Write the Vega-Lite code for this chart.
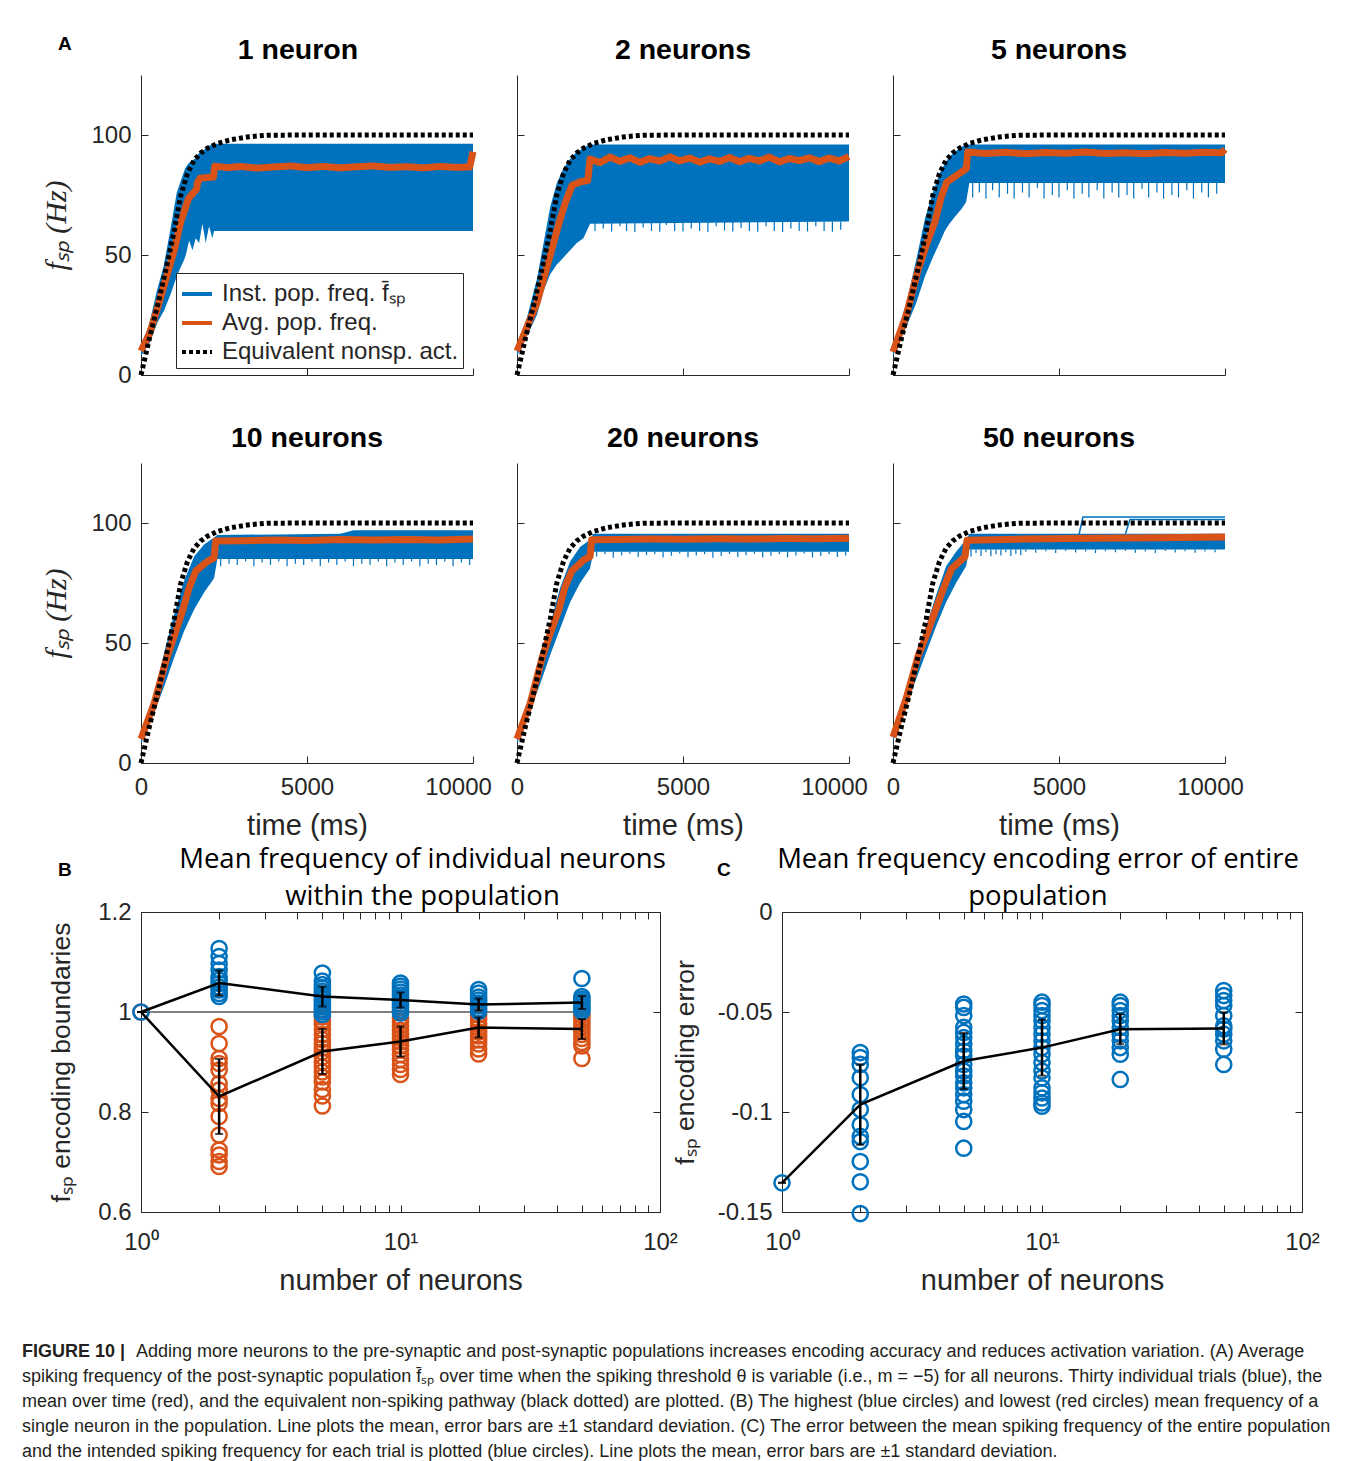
{
"$schema": "https://vega.github.io/schema/vega-lite/v6.json",
"padding": {"left": 22, "top": 35, "right": 8, "bottom": 8},
"spacing": 5,
"resolve": {"scale": {"color": "independent", "strokeDash": "independent"}, "legend": {"color": "independent", "strokeDash": "independent"}},
"datasets": {
"nonsp": [{"t":0,"f":0},{"t":250,"f":15},{"t":500,"f":29},{"t":750,"f":44},{"t":1000,"f":60},{"t":1200,"f":75},{"t":1400,"f":84},{"t":1600,"f":89.5},{"t":1800,"f":92.5},{"t":2000,"f":94.5},{"t":2300,"f":96.5},{"t":2700,"f":98},{"t":3200,"f":99.2},{"t":3800,"f":99.9},{"t":5000,"f":100},{"t":10000,"f":100}],
"band": [
{"p":1,"t":0,"lo":8,"hi":12},{"p":1,"t":250,"lo":13,"hi":20},{"p":1,"t":500,"lo":22,"hi":35},{"p":1,"t":700,"lo":27,"hi":45},{"p":1,"t":900,"lo":34,"hi":60},{"p":1,"t":1100,"lo":42,"hi":76},{"p":1,"t":1300,"lo":48,"hi":84},{"p":1,"t":1350,"lo":50,"hi":86},{"p":1,"t":1450,"lo":56,"hi":88},{"p":1,"t":1550,"lo":52,"hi":89},{"p":1,"t":1650,"lo":57,"hi":90},{"p":1,"t":1750,"lo":55,"hi":92},{"p":1,"t":1850,"lo":63,"hi":93},{"p":1,"t":1950,"lo":55,"hi":94},{"p":1,"t":2050,"lo":62,"hi":95},{"p":1,"t":2150,"lo":57,"hi":96},{"p":1,"t":2200,"lo":60,"hi":96},{"p":1,"t":10000,"lo":60,"hi":96},
{"p":2,"t":0,"lo":8,"hi":12},{"p":2,"t":300,"lo":16,"hi":24},{"p":2,"t":600,"lo":25,"hi":40},{"p":2,"t":800,"lo":35,"hi":55},{"p":2,"t":1000,"lo":42,"hi":70},{"p":2,"t":1200,"lo":46,"hi":80},{"p":2,"t":1400,"lo":49,"hi":86},{"p":2,"t":1600,"lo":52,"hi":90},{"p":2,"t":1800,"lo":55,"hi":93},{"p":2,"t":2000,"lo":57,"hi":94.5},{"p":2,"t":2100,"lo":60,"hi":95.5},{"p":2,"t":2200,"lo":63,"hi":96},{"p":2,"t":10000,"lo":64,"hi":96},
{"p":3,"t":0,"lo":8,"hi":12},{"p":3,"t":400,"lo":20,"hi":30},{"p":3,"t":700,"lo":30,"hi":48},{"p":3,"t":960,"lo":41,"hi":65},{"p":3,"t":1200,"lo":49,"hi":76},{"p":3,"t":1400,"lo":55,"hi":84},{"p":3,"t":1560,"lo":60,"hi":88},{"p":3,"t":1700,"lo":63,"hi":91},{"p":3,"t":1870,"lo":66,"hi":93},{"p":3,"t":2050,"lo":69,"hi":95},{"p":3,"t":2200,"lo":72,"hi":96},{"p":3,"t":2300,"lo":80,"hi":96},{"p":3,"t":10000,"lo":80,"hi":96},
{"p":4,"t":0,"lo":8,"hi":12},{"p":4,"t":400,"lo":21,"hi":29},{"p":4,"t":700,"lo":32,"hi":46},{"p":4,"t":1000,"lo":44,"hi":62},{"p":4,"t":1300,"lo":55,"hi":76},{"p":4,"t":1600,"lo":64,"hi":86},{"p":4,"t":1900,"lo":71,"hi":91},{"p":4,"t":2200,"lo":77,"hi":94},{"p":4,"t":2300,"lo":85,"hi":95},{"p":4,"t":6000,"lo":85,"hi":95.5},{"p":4,"t":6400,"lo":85,"hi":97},{"p":4,"t":10000,"lo":85,"hi":97},
{"p":5,"t":0,"lo":8,"hi":12},{"p":5,"t":400,"lo":22,"hi":28},{"p":5,"t":700,"lo":33,"hi":45},{"p":5,"t":1000,"lo":45,"hi":58},{"p":5,"t":1300,"lo":56,"hi":73},{"p":5,"t":1600,"lo":67,"hi":84},{"p":5,"t":1900,"lo":75,"hi":90},{"p":5,"t":2200,"lo":81,"hi":93},{"p":5,"t":2300,"lo":88,"hi":95.5},{"p":5,"t":10000,"lo":88,"hi":95.5},
{"p":6,"t":0,"lo":9,"hi":12},{"p":6,"t":400,"lo":24,"hi":29},{"p":6,"t":700,"lo":35,"hi":44},{"p":6,"t":1000,"lo":46,"hi":57},{"p":6,"t":1300,"lo":57,"hi":70},{"p":6,"t":1600,"lo":67,"hi":82},{"p":6,"t":1900,"lo":75,"hi":88},{"p":6,"t":2200,"lo":82,"hi":93},{"p":6,"t":2300,"lo":89,"hi":95.5},{"p":6,"t":10000,"lo":89,"hi":95.5}
],
"avg": [
{"p":1,"t":0,"f":10},{"p":1,"t":250,"f":17},{"p":1,"t":500,"f":28},{"p":1,"t":750,"f":40},{"p":1,"t":1000,"f":52},{"p":1,"t":1200,"f":64},{"p":1,"t":1430,"f":73.5},{"p":1,"t":1680,"f":77.6},{"p":1,"t":1700,"f":80},{"p":1,"t":1780,"f":82},{"p":1,"t":2180,"f":82.5},{"p":1,"t":2220,"f":87},{"p":1,"t":2600,"f":86.4},{"p":1,"t":3000,"f":86.9},{"p":1,"t":3500,"f":86.2},{"p":1,"t":4000,"f":86.7},{"p":1,"t":4500,"f":87.1},{"p":1,"t":5000,"f":86.4},{"p":1,"t":5500,"f":86.9},{"p":1,"t":6000,"f":86.3},{"p":1,"t":6500,"f":86.8},{"p":1,"t":7000,"f":87.1},{"p":1,"t":7500,"f":86.5},{"p":1,"t":8000,"f":86.8},{"p":1,"t":8500,"f":86.3},{"p":1,"t":9000,"f":86.9},{"p":1,"t":9500,"f":86.5},{"p":1,"t":9900,"f":86.7},{"p":1,"t":10000,"f":93},
{"p":2,"t":0,"f":10},{"p":2,"t":300,"f":20},{"p":2,"t":600,"f":30},{"p":2,"t":900,"f":45},{"p":2,"t":1100,"f":55},{"p":2,"t":1300,"f":65},{"p":2,"t":1460,"f":72},{"p":2,"t":1660,"f":79},{"p":2,"t":1910,"f":80.5},{"p":2,"t":2130,"f":81},{"p":2,"t":2200,"f":90},{"p":2,"t":2500,"f":88.5},{"p":2,"t":2800,"f":90.8},{"p":2,"t":3100,"f":89},{"p":2,"t":3400,"f":90.5},{"p":2,"t":3700,"f":88.6},{"p":2,"t":4000,"f":90.2},{"p":2,"t":4300,"f":89.1},{"p":2,"t":4600,"f":90.9},{"p":2,"t":4900,"f":89.2},{"p":2,"t":5200,"f":90.4},{"p":2,"t":5500,"f":88.7},{"p":2,"t":5800,"f":90.1},{"p":2,"t":6100,"f":89},{"p":2,"t":6400,"f":90.6},{"p":2,"t":6700,"f":88.9},{"p":2,"t":7000,"f":90.3},{"p":2,"t":7300,"f":89.2},{"p":2,"t":7600,"f":90.8},{"p":2,"t":7900,"f":88.8},{"p":2,"t":8200,"f":90.2},{"p":2,"t":8500,"f":89.3},{"p":2,"t":8800,"f":90.5},{"p":2,"t":9100,"f":88.9},{"p":2,"t":9400,"f":90.4},{"p":2,"t":9700,"f":89.2},{"p":2,"t":10000,"f":91},
{"p":3,"t":0,"f":9.6},{"p":3,"t":400,"f":25},{"p":3,"t":760,"f":44},{"p":3,"t":1000,"f":54},{"p":3,"t":1265,"f":64},{"p":3,"t":1450,"f":74},{"p":3,"t":1620,"f":80.4},{"p":3,"t":2070,"f":84.6},{"p":3,"t":2210,"f":86},{"p":3,"t":2250,"f":92.9},{"p":3,"t":2800,"f":92.3},{"p":3,"t":3400,"f":92.8},{"p":3,"t":4000,"f":92.2},{"p":3,"t":4600,"f":92.7},{"p":3,"t":5200,"f":92.4},{"p":3,"t":5800,"f":92.9},{"p":3,"t":6400,"f":92.3},{"p":3,"t":7000,"f":92.6},{"p":3,"t":7600,"f":92.2},{"p":3,"t":8200,"f":92.7},{"p":3,"t":8800,"f":92.4},{"p":3,"t":9400,"f":92.8},{"p":3,"t":9900,"f":92.6},{"p":3,"t":10000,"f":94},
{"p":4,"t":0,"f":10},{"p":4,"t":400,"f":25},{"p":4,"t":760,"f":43},{"p":4,"t":1000,"f":53},{"p":4,"t":1265,"f":64},{"p":4,"t":1450,"f":73},{"p":4,"t":1650,"f":80},{"p":4,"t":2000,"f":84},{"p":4,"t":2200,"f":85.5},{"p":4,"t":2250,"f":92.5},{"p":4,"t":3000,"f":92.6},{"p":4,"t":4000,"f":92.9},{"p":4,"t":5000,"f":92.7},{"p":4,"t":6000,"f":93.1},{"p":4,"t":7000,"f":92.9},{"p":4,"t":8000,"f":93.1},{"p":4,"t":9000,"f":92.9},{"p":4,"t":10000,"f":93.3},
{"p":5,"t":0,"f":10},{"p":5,"t":400,"f":25},{"p":5,"t":760,"f":44},{"p":5,"t":1000,"f":54},{"p":5,"t":1265,"f":64},{"p":5,"t":1450,"f":73.5},{"p":5,"t":1650,"f":80},{"p":5,"t":2000,"f":84.5},{"p":5,"t":2200,"f":86},{"p":5,"t":2250,"f":93},{"p":5,"t":3000,"f":93.1},{"p":5,"t":4000,"f":93.3},{"p":5,"t":5000,"f":93.2},{"p":5,"t":6000,"f":93.4},{"p":5,"t":7000,"f":93.3},{"p":5,"t":8000,"f":93.5},{"p":5,"t":9000,"f":93.4},{"p":5,"t":10000,"f":93.6},
{"p":6,"t":0,"f":10.8},{"p":6,"t":400,"f":27},{"p":6,"t":763,"f":44.9},{"p":6,"t":1000,"f":53},{"p":6,"t":1265,"f":63},{"p":6,"t":1500,"f":72},{"p":6,"t":1767,"f":81},{"p":6,"t":2169,"f":86},{"p":6,"t":2230,"f":92.8},{"p":6,"t":4000,"f":93.3},{"p":6,"t":6000,"f":93.6},{"p":6,"t":8000,"f":93.9},{"p":6,"t":10000,"f":94.2}
],
"spikes": [
{"p":2,"t":2350,"lo":60},{"p":2,"t":2600,"lo":61},{"p":2,"t":2850,"lo":59.8},{"p":2,"t":3100,"lo":62},{"p":2,"t":3300,"lo":60},{"p":2,"t":3550,"lo":59.6},{"p":2,"t":3800,"lo":61.5},{"p":2,"t":4050,"lo":60},{"p":2,"t":4300,"lo":59.7},{"p":2,"t":4500,"lo":62.5},{"p":2,"t":4750,"lo":60},{"p":2,"t":5000,"lo":59.8},{"p":2,"t":5250,"lo":61},{"p":2,"t":5500,"lo":60},{"p":2,"t":5750,"lo":59.6},{"p":2,"t":6000,"lo":62},{"p":2,"t":6250,"lo":60.2},{"p":2,"t":6500,"lo":59.8},{"p":2,"t":6750,"lo":61.2},{"p":2,"t":7000,"lo":60},{"p":2,"t":7250,"lo":59.7},{"p":2,"t":7500,"lo":62},{"p":2,"t":7750,"lo":60},{"p":2,"t":8000,"lo":59.6},{"p":2,"t":8250,"lo":61},{"p":2,"t":8500,"lo":60},{"p":2,"t":8750,"lo":59.8},{"p":2,"t":9000,"lo":62},{"p":2,"t":9250,"lo":60},{"p":2,"t":9500,"lo":59.7},{"p":2,"t":9750,"lo":60.5},
{"p":3,"t":2400,"lo":74},{"p":3,"t":2600,"lo":76},{"p":3,"t":2800,"lo":73.5},{"p":3,"t":3000,"lo":77},{"p":3,"t":3200,"lo":74},{"p":3,"t":3450,"lo":75.5},{"p":3,"t":3650,"lo":73.5},{"p":3,"t":3900,"lo":76},{"p":3,"t":4100,"lo":74},{"p":3,"t":4350,"lo":78},{"p":3,"t":4550,"lo":73.5},{"p":3,"t":4800,"lo":75},{"p":3,"t":5000,"lo":74},{"p":3,"t":5250,"lo":77},{"p":3,"t":5450,"lo":73.5},{"p":3,"t":5700,"lo":75.5},{"p":3,"t":5900,"lo":74},{"p":3,"t":6150,"lo":77},{"p":3,"t":6350,"lo":73.5},{"p":3,"t":6600,"lo":76},{"p":3,"t":6800,"lo":74},{"p":3,"t":7050,"lo":75},{"p":3,"t":7250,"lo":73.5},{"p":3,"t":7500,"lo":77.5},{"p":3,"t":7700,"lo":74},{"p":3,"t":7950,"lo":76},{"p":3,"t":8150,"lo":73.5},{"p":3,"t":8400,"lo":75},{"p":3,"t":8600,"lo":74},{"p":3,"t":8850,"lo":77},{"p":3,"t":9050,"lo":73.5},{"p":3,"t":9300,"lo":76},{"p":3,"t":9500,"lo":74},{"p":3,"t":9750,"lo":75.5},
{"p":4,"t":2400,"lo":82},{"p":4,"t":2650,"lo":83},{"p":4,"t":2900,"lo":82.5},{"p":4,"t":3150,"lo":84},{"p":4,"t":3400,"lo":82},{"p":4,"t":3650,"lo":83.5},{"p":4,"t":3900,"lo":82.5},{"p":4,"t":4150,"lo":84},{"p":4,"t":4400,"lo":82},{"p":4,"t":4650,"lo":83},{"p":4,"t":4900,"lo":82.5},{"p":4,"t":5150,"lo":84},{"p":4,"t":5400,"lo":82},{"p":4,"t":5650,"lo":83.5},{"p":4,"t":5900,"lo":82.5},{"p":4,"t":6150,"lo":84},{"p":4,"t":6400,"lo":82},{"p":4,"t":6650,"lo":83},{"p":4,"t":6900,"lo":82.5},{"p":4,"t":7150,"lo":84},{"p":4,"t":7400,"lo":82},{"p":4,"t":7650,"lo":83.5},{"p":4,"t":7900,"lo":82.5},{"p":4,"t":8150,"lo":84},{"p":4,"t":8400,"lo":82},{"p":4,"t":8650,"lo":83},{"p":4,"t":8900,"lo":82.5},{"p":4,"t":9150,"lo":84},{"p":4,"t":9400,"lo":82},{"p":4,"t":9650,"lo":83.5},{"p":4,"t":9900,"lo":82.5},
{"p":5,"t":2400,"lo":86},{"p":5,"t":2650,"lo":87},{"p":5,"t":2900,"lo":85.5},{"p":5,"t":3150,"lo":86.5},{"p":5,"t":3400,"lo":87.2},{"p":5,"t":3650,"lo":85.8},{"p":5,"t":3900,"lo":86.6},{"p":5,"t":4150,"lo":87},{"p":5,"t":4400,"lo":85.6},{"p":5,"t":4650,"lo":86.4},{"p":5,"t":4900,"lo":87.3},{"p":5,"t":5150,"lo":85.7},{"p":5,"t":5400,"lo":86.5},{"p":5,"t":5650,"lo":87},{"p":5,"t":5900,"lo":85.5},{"p":5,"t":6150,"lo":86.3},{"p":5,"t":6400,"lo":87.1},{"p":5,"t":6650,"lo":85.8},{"p":5,"t":6900,"lo":86.6},{"p":5,"t":7150,"lo":87.2},{"p":5,"t":7400,"lo":85.6},{"p":5,"t":7650,"lo":86.4},{"p":5,"t":7900,"lo":87},{"p":5,"t":8150,"lo":85.7},{"p":5,"t":8400,"lo":86.5},{"p":5,"t":8650,"lo":87.3},{"p":5,"t":8900,"lo":85.6},{"p":5,"t":9150,"lo":86.2},{"p":5,"t":9400,"lo":87},{"p":5,"t":9650,"lo":85.8},{"p":5,"t":9900,"lo":86.5},
{"p":6,"t":2350,"lo":86},{"p":6,"t":2500,"lo":87.5},{"p":6,"t":2650,"lo":86.3},{"p":6,"t":2800,"lo":87.8},{"p":6,"t":2950,"lo":86.1},{"p":6,"t":3100,"lo":87},{"p":6,"t":3250,"lo":86.5},{"p":6,"t":3400,"lo":87.8},{"p":6,"t":3550,"lo":86.2},{"p":6,"t":3700,"lo":87.2},{"p":6,"t":3850,"lo":86.6},{"p":6,"t":4000,"lo":88},{"p":6,"t":4300,"lo":87.6},{"p":6,"t":4600,"lo":88.2},{"p":6,"t":4900,"lo":87.5},{"p":6,"t":5200,"lo":88.3},{"p":6,"t":5500,"lo":87.7},{"p":6,"t":5800,"lo":88.1},{"p":6,"t":6100,"lo":87.5},{"p":6,"t":6400,"lo":88.2},{"p":6,"t":6700,"lo":87.8},{"p":6,"t":7000,"lo":88.4},{"p":6,"t":7300,"lo":87.6},{"p":6,"t":7600,"lo":88.1},{"p":6,"t":7900,"lo":87.5},{"p":6,"t":8200,"lo":88.3},{"p":6,"t":8500,"lo":87.7},{"p":6,"t":8800,"lo":88.2},{"p":6,"t":9100,"lo":87.6},{"p":6,"t":9400,"lo":88.1},{"p":6,"t":9700,"lo":87.8}
],
"outlier": [
{"p":6,"tr":"a","t":5600,"f":95},{"p":6,"tr":"a","t":5720,"f":102.5},{"p":6,"tr":"a","t":10000,"f":102.5},
{"p":6,"tr":"b","t":7000,"f":95.5},{"p":6,"tr":"b","t":7140,"f":101.5},{"p":6,"tr":"b","t":10000,"f":101.5}
],
"bpts": [
{"n":1,"k":"min","v":1},
{"n":2,"k":"min","v":0.971},{"n":2,"k":"min","v":0.937},{"n":2,"k":"min","v":0.907},{"n":2,"k":"min","v":0.897},{"n":2,"k":"min","v":0.884},{"n":2,"k":"min","v":0.857},{"n":2,"k":"min","v":0.844},{"n":2,"k":"min","v":0.827},{"n":2,"k":"min","v":0.817},{"n":2,"k":"min","v":0.791},{"n":2,"k":"min","v":0.754},{"n":2,"k":"min","v":0.724},{"n":2,"k":"min","v":0.714},{"n":2,"k":"min","v":0.701},{"n":2,"k":"min","v":0.691},
{"n":5,"k":"min","v":0.99},{"n":5,"k":"min","v":0.982},{"n":5,"k":"min","v":0.975},{"n":5,"k":"min","v":0.965},{"n":5,"k":"min","v":0.955},{"n":5,"k":"min","v":0.945},{"n":5,"k":"min","v":0.937},{"n":5,"k":"min","v":0.928},{"n":5,"k":"min","v":0.92},{"n":5,"k":"min","v":0.91},{"n":5,"k":"min","v":0.9},{"n":5,"k":"min","v":0.89},{"n":5,"k":"min","v":0.88},{"n":5,"k":"min","v":0.87},{"n":5,"k":"min","v":0.86},{"n":5,"k":"min","v":0.845},{"n":5,"k":"min","v":0.832},{"n":5,"k":"min","v":0.812},
{"n":10,"k":"min","v":0.988},{"n":10,"k":"min","v":0.98},{"n":10,"k":"min","v":0.972},{"n":10,"k":"min","v":0.964},{"n":10,"k":"min","v":0.956},{"n":10,"k":"min","v":0.948},{"n":10,"k":"min","v":0.94},{"n":10,"k":"min","v":0.932},{"n":10,"k":"min","v":0.924},{"n":10,"k":"min","v":0.915},{"n":10,"k":"min","v":0.905},{"n":10,"k":"min","v":0.895},{"n":10,"k":"min","v":0.885},{"n":10,"k":"min","v":0.875},
{"n":20,"k":"min","v":0.994},{"n":20,"k":"min","v":0.985},{"n":20,"k":"min","v":0.976},{"n":20,"k":"min","v":0.968},{"n":20,"k":"min","v":0.96},{"n":20,"k":"min","v":0.952},{"n":20,"k":"min","v":0.944},{"n":20,"k":"min","v":0.936},{"n":20,"k":"min","v":0.926},{"n":20,"k":"min","v":0.916},
{"n":50,"k":"min","v":0.994},{"n":50,"k":"min","v":0.986},{"n":50,"k":"min","v":0.978},{"n":50,"k":"min","v":0.97},{"n":50,"k":"min","v":0.962},{"n":50,"k":"min","v":0.955},{"n":50,"k":"min","v":0.947},{"n":50,"k":"min","v":0.939},{"n":50,"k":"min","v":0.932},{"n":50,"k":"min","v":0.907},
{"n":1,"k":"max","v":1},
{"n":2,"k":"max","v":1.127},{"n":2,"k":"max","v":1.111},{"n":2,"k":"max","v":1.097},{"n":2,"k":"max","v":1.084},{"n":2,"k":"max","v":1.071},{"n":2,"k":"max","v":1.064},{"n":2,"k":"max","v":1.057},{"n":2,"k":"max","v":1.05},{"n":2,"k":"max","v":1.044},{"n":2,"k":"max","v":1.037},{"n":2,"k":"max","v":1.031},
{"n":5,"k":"max","v":1.078},{"n":5,"k":"max","v":1.062},{"n":5,"k":"max","v":1.055},{"n":5,"k":"max","v":1.048},{"n":5,"k":"max","v":1.042},{"n":5,"k":"max","v":1.036},{"n":5,"k":"max","v":1.03},{"n":5,"k":"max","v":1.025},{"n":5,"k":"max","v":1.02},{"n":5,"k":"max","v":1.015},{"n":5,"k":"max","v":1.01},{"n":5,"k":"max","v":1.005},{"n":5,"k":"max","v":1},{"n":5,"k":"max","v":0.995},
{"n":10,"k":"max","v":1.058},{"n":10,"k":"max","v":1.052},{"n":10,"k":"max","v":1.046},{"n":10,"k":"max","v":1.04},{"n":10,"k":"max","v":1.034},{"n":10,"k":"max","v":1.028},{"n":10,"k":"max","v":1.022},{"n":10,"k":"max","v":1.016},{"n":10,"k":"max","v":1.01},{"n":10,"k":"max","v":1.004},{"n":10,"k":"max","v":0.998},
{"n":20,"k":"max","v":1.045},{"n":20,"k":"max","v":1.038},{"n":20,"k":"max","v":1.03},{"n":20,"k":"max","v":1.024},{"n":20,"k":"max","v":1.018},{"n":20,"k":"max","v":1.012},{"n":20,"k":"max","v":1.006},{"n":20,"k":"max","v":1.001},
{"n":50,"k":"max","v":1.067},{"n":50,"k":"max","v":1.031},{"n":50,"k":"max","v":1.026},{"n":50,"k":"max","v":1.021},{"n":50,"k":"max","v":1.016},{"n":50,"k":"max","v":1.011},{"n":50,"k":"max","v":1.006},{"n":50,"k":"max","v":1.001}
],
"bstats": [
{"n":1,"k":"max","m":1,"lo":1,"hi":1},{"n":2,"k":"max","m":1.058,"lo":1.033,"hi":1.083},{"n":5,"k":"max","m":1.031,"lo":1.011,"hi":1.051},{"n":10,"k":"max","m":1.024,"lo":1.009,"hi":1.039},{"n":20,"k":"max","m":1.015,"lo":1.003,"hi":1.027},{"n":50,"k":"max","m":1.019,"lo":1.006,"hi":1.032},
{"n":1,"k":"min","m":1,"lo":1,"hi":1},{"n":2,"k":"min","m":0.831,"lo":0.756,"hi":0.906},{"n":5,"k":"min","m":0.921,"lo":0.876,"hi":0.966},{"n":10,"k":"min","m":0.941,"lo":0.911,"hi":0.971},{"n":20,"k":"min","m":0.969,"lo":0.949,"hi":0.989},{"n":50,"k":"min","m":0.966,"lo":0.946,"hi":0.986}
],
"cpts": [
{"n":1,"v":-0.1354},
{"n":2,"v":-0.0703},{"n":2,"v":-0.0728},{"n":2,"v":-0.0762},{"n":2,"v":-0.0829},{"n":2,"v":-0.0913},{"n":2,"v":-0.0988},{"n":2,"v":-0.1064},{"n":2,"v":-0.1122},{"n":2,"v":-0.1148},{"n":2,"v":-0.1248},{"n":2,"v":-0.1349},{"n":2,"v":-0.1508},
{"n":5,"v":-0.046},{"n":5,"v":-0.0477},{"n":5,"v":-0.0518},{"n":5,"v":-0.0577},{"n":5,"v":-0.0602},{"n":5,"v":-0.0628},{"n":5,"v":-0.0661},{"n":5,"v":-0.0695},{"n":5,"v":-0.072},{"n":5,"v":-0.0762},{"n":5,"v":-0.0795},{"n":5,"v":-0.082},{"n":5,"v":-0.0854},{"n":5,"v":-0.0879},{"n":5,"v":-0.0913},{"n":5,"v":-0.0946},{"n":5,"v":-0.0988},{"n":5,"v":-0.1047},{"n":5,"v":-0.1181},
{"n":10,"v":-0.0451},{"n":10,"v":-0.0468},{"n":10,"v":-0.0493},{"n":10,"v":-0.0518},{"n":10,"v":-0.0544},{"n":10,"v":-0.0577},{"n":10,"v":-0.0611},{"n":10,"v":-0.0644},{"n":10,"v":-0.0678},{"n":10,"v":-0.0711},{"n":10,"v":-0.0753},{"n":10,"v":-0.0795},{"n":10,"v":-0.0829},{"n":10,"v":-0.0879},{"n":10,"v":-0.0904},{"n":10,"v":-0.093},{"n":10,"v":-0.0955},{"n":10,"v":-0.0971},
{"n":20,"v":-0.0451},{"n":20,"v":-0.0468},{"n":20,"v":-0.0493},{"n":20,"v":-0.0518},{"n":20,"v":-0.0544},{"n":20,"v":-0.0577},{"n":20,"v":-0.0611},{"n":20,"v":-0.0644},{"n":20,"v":-0.0678},{"n":20,"v":-0.0711},{"n":20,"v":-0.0837},
{"n":50,"v":-0.0393},{"n":50,"v":-0.0418},{"n":50,"v":-0.0443},{"n":50,"v":-0.0468},{"n":50,"v":-0.0518},{"n":50,"v":-0.0569},{"n":50,"v":-0.0585},{"n":50,"v":-0.0611},{"n":50,"v":-0.0644},{"n":50,"v":-0.0686},{"n":50,"v":-0.0762}
],
"cstats": [
{"n":1,"m":-0.1354,"lo":-0.1354,"hi":-0.1354},{"n":2,"m":-0.0963,"lo":-0.1164,"hi":-0.0762},{"n":5,"m":-0.0745,"lo":-0.0885,"hi":-0.0605},{"n":10,"m":-0.0678,"lo":-0.0818,"hi":-0.0538},{"n":20,"m":-0.0586,"lo":-0.0661,"hi":-0.0511},{"n":50,"m":-0.0582,"lo":-0.0662,"hi":-0.0502}
],
"caption": [
{"line":1,"seg":"fig","text":"FIGURE 10 |"},
{"line":1,"seg":"l1","text":"Adding more neurons to the pre-synaptic and post-synaptic populations increases encoding accuracy and reduces activation variation. (A) Average"},
{"line":2,"seg":"main","text":"spiking frequency of the post-synaptic population f̄ₛₚ over time when the spiking threshold θ is variable (i.e., m = −5) for all neurons. Thirty individual trials (blue), the"},
{"line":3,"seg":"main","text":"mean over time (red), and the equivalent non-spiking pathway (black dotted) are plotted. (B) The highest (blue circles) and lowest (red circles) mean frequency of a"},
{"line":4,"seg":"main","text":"single neuron in the population. Line plots the mean, error bars are ±1 standard deviation. (C) The error between the mean spiking frequency of the entire population"},
{"line":5,"seg":"main","text":"and the intended spiking frequency for each trial is plotted (blue circles). Line plots the mean, error bars are ±1 standard deviation."}
]
},
"vconcat": [
{"columns": 4, "align": "each", "bounds": "flush", "spacing": {"row": 88, "column": 44},
 "resolve": {"scale": {"color": "independent", "strokeDash": "independent"}, "legend": {"color": "independent", "strokeDash": "independent"}},
 "concat": [
{"width":75,"height":300,"data":{"values":[]},"mark":{"type":"point","opacity":0},"title":{"text":"A","anchor":"start","dx":36,"offset":6,"fontSize":19,"fontWeight":"bold","baseline":"alphabetic"}},
{"width":332,"height":300,"title":{"text":"1 neuron","dx":-9},"resolve":{"axis":{"x":"independent","y":"independent"}},"layer":[
 {"data":{"name":"band"},"transform":[{"filter":"datum.p == 1"}],"mark":{"type":"area","color":"#0072BD","opacity":1},"encoding":{"x":{"field":"t","type":"quantitative","scale":{"domain":[0,10000],"nice":false},"axis":{"values":[0,5000,10000],"labels":false,"title":null}},"y":{"field":"lo","type":"quantitative","scale":{"domain":[0,125],"nice":false},"axis":{"values":[0,50,100],"title":"fₛₚ (Hz)","titleFont":"Liberation Serif","titleFontStyle":"italic","titleFontSize":30,"titlePadding":19}},"y2":{"field":"hi"}}},
 {"data":{"name":"band"},"transform":[{"filter":"datum.p == 1"}],"mark":{"type":"line","strokeWidth":1.5},"encoding":{"x":{"field":"t","type":"quantitative","axis":null},"y":{"field":"hi","type":"quantitative","axis":null},
   "color":{"datum":"Inst. pop. freq. f̄ₛₚ","scale":{"domain":["Inst. pop. freq. f̄ₛₚ","Avg. pop. freq.","Equivalent nonsp. act."],"range":["#0072BD","#D95319","#000000"]},"legend":{"title":null,"orient":"none","legendX":35,"legendY":198,"symbolType":"stroke","symbolSize":900,"symbolStrokeWidth":4,"labelFont":"Liberation Sans","labelFontSize":24,"labelColor":"#262626","labelOffset":8,"labelLimit":400,"strokeColor":"#262626","fillColor":"#ffffff","padding":4,"rowPadding":0}},
   "strokeDash":{"datum":"Inst. pop. freq. f̄ₛₚ","scale":{"domain":["Inst. pop. freq. f̄ₛₚ","Avg. pop. freq.","Equivalent nonsp. act."],"range":[[1,0],[1,0],[4,3]]},"legend":{"title":null}}}},
 {"data":{"name":"avg"},"transform":[{"filter":"datum.p == 1"}],"mark":{"type":"line","strokeWidth":7,"strokeJoin":"round"},"encoding":{"x":{"field":"t","type":"quantitative","axis":null},"y":{"field":"f","type":"quantitative","axis":null},"color":{"datum":"Avg. pop. freq."},"strokeDash":{"datum":"Avg. pop. freq."}}},
 {"data":{"name":"nonsp"},"mark":{"type":"line","strokeWidth":5,"strokeCap":"butt"},"encoding":{"x":{"field":"t","type":"quantitative","axis":null},"y":{"field":"f","type":"quantitative","axis":null},"color":{"datum":"Equivalent nonsp. act."},"strokeDash":{"datum":"Equivalent nonsp. act."}}}
]},
{"width":332,"height":300,"title":{"text":"2 neurons"},"resolve":{"axis":{"x":"independent","y":"independent"}},"layer":[
 {"data":{"name":"band"},"transform":[{"filter":"datum.p == 2"}],"mark":{"type":"area","color":"#0072BD","opacity":1},"encoding":{"x":{"field":"t","type":"quantitative","scale":{"domain":[0,10000],"nice":false},"axis":{"values":[0,5000,10000],"labels":false,"title":null}},"y":{"field":"lo","type":"quantitative","scale":{"domain":[0,125],"nice":false},"axis":{"values":[0,50,100],"labels":false,"title":null}},"y2":{"field":"hi"}}},
 {"data":{"name":"spikes"},"transform":[{"filter":"datum.p == 2"}],"mark":{"type":"rule","color":"#0072BD","strokeWidth":1.2},"encoding":{"x":{"field":"t","type":"quantitative","axis":null},"y":{"field":"lo","type":"quantitative","axis":null},"y2":{"datum":64}}},
 {"data":{"name":"avg"},"transform":[{"filter":"datum.p == 2"}],"mark":{"type":"line","color":"#D95319","strokeWidth":7,"strokeJoin":"round"},"encoding":{"x":{"field":"t","type":"quantitative","axis":null},"y":{"field":"f","type":"quantitative","axis":null}}},
 {"data":{"name":"nonsp"},"mark":{"type":"line","color":"#000000","strokeWidth":5,"strokeDash":[4,3],"strokeCap":"butt"},"encoding":{"x":{"field":"t","type":"quantitative","axis":null},"y":{"field":"f","type":"quantitative","axis":null}}}
]},
{"width":332,"height":300,"title":{"text":"5 neurons"},"resolve":{"axis":{"x":"independent","y":"independent"}},"layer":[
 {"data":{"name":"band"},"transform":[{"filter":"datum.p == 3"}],"mark":{"type":"area","color":"#0072BD","opacity":1},"encoding":{"x":{"field":"t","type":"quantitative","scale":{"domain":[0,10000],"nice":false},"axis":{"values":[0,5000,10000],"labels":false,"title":null}},"y":{"field":"lo","type":"quantitative","scale":{"domain":[0,125],"nice":false},"axis":{"values":[0,50,100],"labels":false,"title":null}},"y2":{"field":"hi"}}},
 {"data":{"name":"spikes"},"transform":[{"filter":"datum.p == 3"}],"mark":{"type":"rule","color":"#0072BD","strokeWidth":1.2},"encoding":{"x":{"field":"t","type":"quantitative","axis":null},"y":{"field":"lo","type":"quantitative","axis":null},"y2":{"datum":80}}},
 {"data":{"name":"avg"},"transform":[{"filter":"datum.p == 3"}],"mark":{"type":"line","color":"#D95319","strokeWidth":7,"strokeJoin":"round"},"encoding":{"x":{"field":"t","type":"quantitative","axis":null},"y":{"field":"f","type":"quantitative","axis":null}}},
 {"data":{"name":"nonsp"},"mark":{"type":"line","color":"#000000","strokeWidth":5,"strokeDash":[4,3],"strokeCap":"butt"},"encoding":{"x":{"field":"t","type":"quantitative","axis":null},"y":{"field":"f","type":"quantitative","axis":null}}}
]},
{"width":75,"height":300,"data":{"values":[]},"mark":{"type":"point","opacity":0}},
{"width":332,"height":300,"title":{"text":"10 neurons"},"resolve":{"axis":{"x":"independent","y":"independent"}},"layer":[
 {"data":{"name":"band"},"transform":[{"filter":"datum.p == 4"}],"mark":{"type":"area","color":"#0072BD","opacity":1},"encoding":{"x":{"field":"t","type":"quantitative","scale":{"domain":[0,10000],"nice":false},"axis":{"values":[0,5000,10000],"format":"d","title":"time (ms)","labelOffset":{"condition":{"test":"datum.value == 10000","value":-15},"value":0}}},"y":{"field":"lo","type":"quantitative","scale":{"domain":[0,125],"nice":false},"axis":{"values":[0,50,100],"title":"fₛₚ (Hz)","titleFont":"Liberation Serif","titleFontStyle":"italic","titleFontSize":30,"titlePadding":19}},"y2":{"field":"hi"}}},
 {"data":{"name":"spikes"},"transform":[{"filter":"datum.p == 4"}],"mark":{"type":"rule","color":"#0072BD","strokeWidth":1.2},"encoding":{"x":{"field":"t","type":"quantitative","axis":null},"y":{"field":"lo","type":"quantitative","axis":null},"y2":{"datum":85}}},
 {"data":{"name":"avg"},"transform":[{"filter":"datum.p == 4"}],"mark":{"type":"line","color":"#D95319","strokeWidth":7,"strokeJoin":"round"},"encoding":{"x":{"field":"t","type":"quantitative","axis":null},"y":{"field":"f","type":"quantitative","axis":null}}},
 {"data":{"name":"nonsp"},"mark":{"type":"line","color":"#000000","strokeWidth":5,"strokeDash":[4,3],"strokeCap":"butt"},"encoding":{"x":{"field":"t","type":"quantitative","axis":null},"y":{"field":"f","type":"quantitative","axis":null}}}
]},
{"width":332,"height":300,"title":{"text":"20 neurons"},"resolve":{"axis":{"x":"independent","y":"independent"}},"layer":[
 {"data":{"name":"band"},"transform":[{"filter":"datum.p == 5"}],"mark":{"type":"area","color":"#0072BD","opacity":1},"encoding":{"x":{"field":"t","type":"quantitative","scale":{"domain":[0,10000],"nice":false},"axis":{"values":[0,5000,10000],"format":"d","title":"time (ms)","labelOffset":{"condition":{"test":"datum.value == 10000","value":-15},"value":0}}},"y":{"field":"lo","type":"quantitative","scale":{"domain":[0,125],"nice":false},"axis":{"values":[0,50,100],"labels":false,"title":null}},"y2":{"field":"hi"}}},
 {"data":{"name":"spikes"},"transform":[{"filter":"datum.p == 5"}],"mark":{"type":"rule","color":"#0072BD","strokeWidth":1.2},"encoding":{"x":{"field":"t","type":"quantitative","axis":null},"y":{"field":"lo","type":"quantitative","axis":null},"y2":{"datum":88}}},
 {"data":{"name":"avg"},"transform":[{"filter":"datum.p == 5"}],"mark":{"type":"line","color":"#D95319","strokeWidth":7,"strokeJoin":"round"},"encoding":{"x":{"field":"t","type":"quantitative","axis":null},"y":{"field":"f","type":"quantitative","axis":null}}},
 {"data":{"name":"nonsp"},"mark":{"type":"line","color":"#000000","strokeWidth":5,"strokeDash":[4,3],"strokeCap":"butt"},"encoding":{"x":{"field":"t","type":"quantitative","axis":null},"y":{"field":"f","type":"quantitative","axis":null}}}
]},
{"width":332,"height":300,"title":{"text":"50 neurons"},"resolve":{"axis":{"x":"independent","y":"independent"}},"layer":[
 {"data":{"name":"band"},"transform":[{"filter":"datum.p == 6"}],"mark":{"type":"area","color":"#0072BD","opacity":1},"encoding":{"x":{"field":"t","type":"quantitative","scale":{"domain":[0,10000],"nice":false},"axis":{"values":[0,5000,10000],"format":"d","title":"time (ms)","labelOffset":{"condition":{"test":"datum.value == 10000","value":-15},"value":0}}},"y":{"field":"lo","type":"quantitative","scale":{"domain":[0,125],"nice":false},"axis":{"values":[0,50,100],"labels":false,"title":null}},"y2":{"field":"hi"}}},
 {"data":{"name":"spikes"},"transform":[{"filter":"datum.p == 6"}],"mark":{"type":"rule","color":"#0072BD","strokeWidth":1.2},"encoding":{"x":{"field":"t","type":"quantitative","axis":null},"y":{"field":"lo","type":"quantitative","axis":null},"y2":{"datum":89}}},
 {"data":{"name":"outlier"},"mark":{"type":"line","color":"#0072BD","strokeWidth":1.5},"encoding":{"x":{"field":"t","type":"quantitative","axis":null},"y":{"field":"f","type":"quantitative","axis":null},"detail":{"field":"tr"}}},
 {"data":{"name":"avg"},"transform":[{"filter":"datum.p == 6"}],"mark":{"type":"line","color":"#D95319","strokeWidth":7,"strokeJoin":"round"},"encoding":{"x":{"field":"t","type":"quantitative","axis":null},"y":{"field":"f","type":"quantitative","axis":null}}},
 {"data":{"name":"nonsp"},"mark":{"type":"line","color":"#000000","strokeWidth":5,"strokeDash":[4,3],"strokeCap":"butt"},"encoding":{"x":{"field":"t","type":"quantitative","axis":null},"y":{"field":"f","type":"quantitative","axis":null}}}
]}
]},
{"hconcat": [
{"width":75,"height":300,"data":{"values":[]},"mark":{"type":"point","opacity":0},"title":{"text":"B","anchor":"start","dx":36,"offset":17,"fontSize":19,"fontWeight":"bold","baseline":"alphabetic"}},
{"width":519,"height":300,"view":{"stroke":"#262626","strokeWidth":1},
 "title":{"text":["Mean frequency of individual neurons","within the population"],"font":"Open Sans","fontSize":27.5,"fontWeight":"normal","lineHeight":37,"offset":-10,"dx":22},
 "resolve":{"axis":{"x":"independent","y":"independent"}},
 "layer":[
 {"data":{"values":[{}]},"mark":{"type":"rule","color":"#000000","strokeWidth":1},"encoding":{
   "x":{"datum":1,"type":"quantitative","scale":{"type":"log","domain":[1,100],"nice":false},"axis":{"orient":"top","values":[1,2,3,4,5,6,7,8,9,10,20,30,40,50,60,70,80,90,100],"labels":false,"title":null,"domain":false}},
   "x2":{"datum":50},
   "y":{"datum":1,"type":"quantitative","scale":{"domain":[0.6,1.2],"nice":false},"axis":{"orient":"right","values":[0.6,0.8,1,1.2],"labels":false,"title":null,"domain":false}}}},
 {"data":{"name":"bpts"},"mark":{"type":"point","shape":"circle","filled":false,"size":230,"strokeWidth":2.5,"opacity":1},"encoding":{
   "x":{"field":"n","type":"quantitative","axis":{"orient":"bottom","values":[1,2,3,4,5,6,7,8,9,10,20,30,40,50,60,70,80,90,100],"labelExpr":"datum.value == 1 ? '10⁰' : datum.value == 10 ? '10¹' : datum.value == 100 ? '10²' : ''","title":"number of neurons","domain":false,"labelPadding":25}},
   "y":{"field":"v","type":"quantitative","axis":{"orient":"left","values":[0.6,0.8,1,1.2],"labelExpr":"format(datum.value, '~g')","title":"fₛₚ encoding boundaries","titleFontSize":26.5,"titlePadding":22,"domain":false}},
   "color":{"field":"k","type":"nominal","scale":{"domain":["min","max"],"range":["#D95319","#0072BD"]},"legend":null}}},
 {"data":{"name":"bstats"},"mark":{"type":"rule","color":"#000000","strokeWidth":2.5},"encoding":{"x":{"field":"n","type":"quantitative","axis":null},"y":{"field":"lo","type":"quantitative","axis":null},"y2":{"field":"hi"}}},
 {"data":{"name":"bstats"},"mark":{"type":"tick","orient":"horizontal","color":"#000000","size":8,"thickness":2},"encoding":{"x":{"field":"n","type":"quantitative","axis":null},"y":{"field":"lo","type":"quantitative","axis":null}}},
 {"data":{"name":"bstats"},"mark":{"type":"tick","orient":"horizontal","color":"#000000","size":8,"thickness":2},"encoding":{"x":{"field":"n","type":"quantitative","axis":null},"y":{"field":"hi","type":"quantitative","axis":null}}},
 {"data":{"name":"bstats"},"mark":{"type":"line","color":"#000000","strokeWidth":2.5},"encoding":{"x":{"field":"n","type":"quantitative","axis":null},"y":{"field":"m","type":"quantitative","axis":null},"detail":{"field":"k"}}}
]},
{"width":34,"height":300,"data":{"values":[]},"mark":{"type":"point","opacity":0},"title":{"text":"C","anchor":"start","dx":13,"offset":17,"fontSize":19,"fontWeight":"bold","baseline":"alphabetic"}},
{"width":520,"height":300,"view":{"stroke":"#262626","strokeWidth":1},
 "title":{"text":["Mean frequency encoding error of entire","population"],"font":"Open Sans","fontSize":27.5,"fontWeight":"normal","lineHeight":37,"offset":-10,"dx":-4},
 "resolve":{"axis":{"x":"independent","y":"independent"}},
 "layer":[
 {"data":{"name":"cpts"},"mark":{"type":"point","shape":"circle","filled":false,"size":230,"strokeWidth":2.5,"opacity":1,"color":"#0072BD"},"encoding":{
   "x":{"field":"n","type":"quantitative","scale":{"type":"log","domain":[1,100],"nice":false},"axis":{"orient":"bottom","values":[1,2,3,4,5,6,7,8,9,10,20,30,40,50,60,70,80,90,100],"labelExpr":"datum.value == 1 ? '10⁰' : datum.value == 10 ? '10¹' : datum.value == 100 ? '10²' : ''","title":"number of neurons","domain":false,"labelPadding":25}},
   "y":{"field":"v","type":"quantitative","scale":{"domain":[-0.15,0],"nice":false},"axis":{"orient":"left","values":[-0.15,-0.1,-0.05,0],"labelExpr":"datum.value == 0 ? '0' : '-' + format(-datum.value, '~g')","title":"fₛₚ encoding error","titleFontSize":26.5,"titlePadding":18,"domain":false}}}},
 {"data":{"name":"cstats"},"mark":{"type":"rule","color":"#000000","strokeWidth":2.5},"encoding":{"x":{"field":"n","type":"quantitative","axis":null},"y":{"field":"lo","type":"quantitative","axis":null},"y2":{"field":"hi"}}},
 {"data":{"name":"cstats"},"mark":{"type":"tick","orient":"horizontal","color":"#000000","size":8,"thickness":2},"encoding":{"x":{"field":"n","type":"quantitative","axis":null},"y":{"field":"lo","type":"quantitative","axis":null}}},
 {"data":{"name":"cstats"},"mark":{"type":"tick","orient":"horizontal","color":"#000000","size":8,"thickness":2},"encoding":{"x":{"field":"n","type":"quantitative","axis":null},"y":{"field":"hi","type":"quantitative","axis":null}}},
 {"data":{"name":"cstats"},"mark":{"type":"line","color":"#000000","strokeWidth":2.5},"encoding":{
   "x":{"field":"n","type":"quantitative","axis":{"orient":"top","values":[1,2,3,4,5,6,7,8,9,10,20,30,40,50,60,70,80,90,100],"labels":false,"title":null,"domain":false}},
   "y":{"field":"m","type":"quantitative","axis":{"orient":"right","values":[-0.15,-0.1,-0.05,0],"labels":false,"title":null,"domain":false}}}}
]}
], "bounds": "flush", "spacing": 44},
{"width":1310,"height":160,"data":{"name":"caption"},
 "encoding":{"y":{"field":"line","type":"quantitative","scale":{"domain":[1,5],"range":[56,156]},"axis":null},"text":{"field":"text"}},
 "layer":[
  {"transform":[{"filter":"datum.seg == 'main'"}],"mark":{"type":"text","x":0}},
  {"transform":[{"filter":"datum.seg == 'fig'"}],"mark":{"type":"text","x":0,"fontWeight":"bold"}},
  {"transform":[{"filter":"datum.seg == 'l1'"}],"mark":{"type":"text","x":114}}
 ]}
],
"config": {
 "view": {"stroke": null},
 "font": "Liberation Sans",
 "axis": {"grid": false, "domainColor": "#262626", "tickColor": "#262626", "labelColor": "#262626", "titleColor": "#262626", "labelFont": "Liberation Sans", "titleFont": "Liberation Sans", "labelFontSize": 24, "titleFontSize": 29, "titleFontWeight": "normal", "tickSize": -7, "tickWidth": 1, "domainWidth": 1, "labelFlush": false, "labelOverlap": false},
 "axisX": {"labelPadding": 19, "titlePadding": 12},
 "axisY": {"labelPadding": 17, "titlePadding": 14},
 "title": {"font": "Liberation Sans", "fontSize": 28.5, "fontWeight": "bold", "color": "#000000", "anchor": "middle", "baseline": "bottom", "offset": 11, "frame": "group"},
 "text": {"font": "Liberation Sans", "fontSize": 18, "color": "#231f20", "align": "left", "baseline": "alphabetic"}
}
}
